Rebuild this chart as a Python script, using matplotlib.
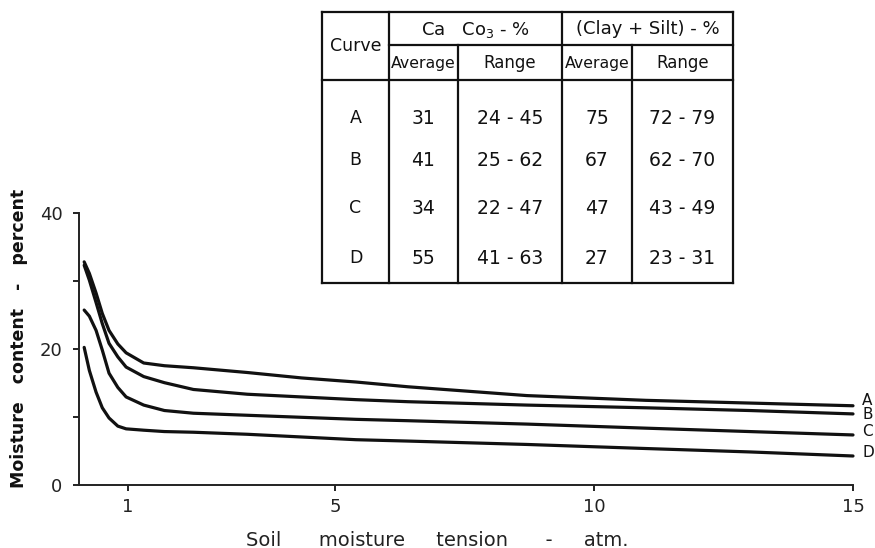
import matplotlib
matplotlib.use("Agg")
import matplotlib.pyplot as plt
from matplotlib.lines import Line2D

# ---------------- data ----------------
tension = [0.15, 0.25, 0.38, 0.5, 0.63, 0.8, 0.96, 1.3, 1.7, 2.26, 3.3, 4.35,
           5.4, 6.4, 8.7, 11.0, 13.0, 15.0]
curve_A = [32.8, 31.1, 28.2, 25.2, 22.7, 20.7, 19.4, 17.9, 17.5, 17.2, 16.5, 15.7,
           15.1, 14.4, 13.1, 12.4, 12.0, 11.6]
curve_B = [32.3, 30.1, 26.8, 23.7, 20.8, 18.8, 17.3, 15.9, 15.0, 14.0, 13.3, 12.9,
           12.5, 12.2, 11.7, 11.3, 10.9, 10.4]
curve_C = [25.7, 24.8, 22.7, 19.8, 16.4, 14.3, 12.9, 11.7, 10.9, 10.5, 10.2, 9.9,
           9.6, 9.4, 8.9, 8.3, 7.8, 7.3]
curve_D = [20.2, 16.8, 13.6, 11.3, 9.8, 8.6, 8.2, 8.0, 7.8, 7.7, 7.4, 7.0,
           6.6, 6.4, 5.9, 5.3, 4.8, 4.2]
curve_names = ["A", "B", "C", "D"]

x_ticks = [1, 5, 10, 15]
x_ticklabels = ["1", "5", "10", "15"]
y_ticks = [0, 10, 20, 30, 40]
y_ticklabels = ["0", "", "20", "", "40"]

table_curves = ["A", "B", "C", "D"]
caco3_avg = ["31", "41", "34", "55"]
caco3_range = ["24 - 45", "25 - 62", "22 - 47", "41 - 63"]
clay_avg = ["75", "67", "47", "27"]
clay_range = ["72 - 79", "62 - 70", "43 - 49", "23 - 31"]
header_top = ["Ca   Co$_3$ - %", "(Clay + Silt) - %"]
header_sub = ["Average", "Range", "Average", "Range"]

# ---------------- figure ----------------
W, H = 875, 548
fig = plt.figure(figsize=(W / 100, H / 100), dpi=100)
plt.rcParams['font.family'] = ['DejaVu Sans']

def fx(px):
    return px / W

def fy(py):
    return 1 - py / H

ax = fig.add_axes([fx(79), fy(484.5), fx(853) - fx(79), fy(213) - fy(484.5)])
ax.set_xlim(0.05, 15)
ax.set_ylim(0, 40)

label_offsets = [5, -1, 3, 3]
for name, ys, dy in zip(curve_names, [curve_A, curve_B, curve_C, curve_D], label_offsets):
    ax.plot(tension, ys, color="#111111", lw=2.3, solid_capstyle="round",
            solid_joinstyle="round", clip_on=False)
    ax.annotate(name, xy=(tension[-1], ys[-1]), xytext=(9, dy),
                textcoords="offset pixels", ha="left", va="center",
                fontsize=11, color="#111111")

for s in ["top", "right"]:
    ax.spines[s].set_visible(False)
for s in ["left", "bottom"]:
    ax.spines[s].set_linewidth(1.4)
    ax.spines[s].set_color("#222222")

ax.set_xticks(x_ticks)
ax.set_xticklabels(x_ticklabels, fontsize=13)
ax.set_yticks(y_ticks)
ax.set_yticklabels(y_ticklabels, fontsize=13)
ax.tick_params(axis="x", direction="out", length=4, width=1.4, pad=6, colors="#222222")
ax.tick_params(axis="y", direction="out", length=4, width=1.4, pad=8, colors="#222222")

fig.text(fx(437), fy(540), "Soil      moisture     tension      -     atm.",
         ha="center", va="center", fontsize=14, color="#222222")
fig.text(fx(19), fy(338), "Moisture   content   -   percent",
         ha="center", va="center", rotation=90, fontsize=12.5,
         fontweight="bold", color="#111111")

# ---------------- table ----------------
col_edges = [322, 389, 458, 562, 632, 733]
row_top, row_split, row_head, row_bottom = 12, 45, 80, 283
row_centers = [118, 160, 208, 258]
tkw = dict(transform=fig.transFigure, color="#111111", lw=1.6)

def hline(py, x0, x1):
    fig.add_artist(Line2D([fx(x0), fx(x1)], [fy(py), fy(py)], **tkw))

def vline(px, y0, y1):
    fig.add_artist(Line2D([fx(px), fx(px)], [fy(y0), fy(y1)], **tkw))

hline(row_top, col_edges[0], col_edges[-1])
hline(row_bottom, col_edges[0], col_edges[-1])
hline(row_head, col_edges[0], col_edges[-1])
hline(row_split, col_edges[1], col_edges[-1])
vline(col_edges[0], row_top, row_bottom)
vline(col_edges[-1], row_top, row_bottom)
vline(col_edges[1], row_top, row_bottom)
vline(col_edges[3], row_top, row_bottom)
vline(col_edges[2], row_split, row_bottom)
vline(col_edges[4], row_split, row_bottom)

centers = [(col_edges[i] + col_edges[i + 1]) / 2 for i in range(5)]
fig.text(fx(centers[0]), fy((row_top + row_head) / 2), "Curve",
         ha="center", va="center", fontsize=12.5, color="#111111")
fig.text(fx((col_edges[1] + col_edges[3]) / 2), fy((row_top + row_split) / 2 + 1),
         header_top[0], ha="center", va="center", fontsize=13, color="#111111")
fig.text(fx((col_edges[3] + col_edges[5]) / 2), fy((row_top + row_split) / 2 + 1),
         header_top[1], ha="center", va="center", fontsize=13, color="#111111")
for i, lab in enumerate(header_sub):
    fig.text(fx(centers[i + 1]), fy((row_split + row_head) / 2 + 1), lab,
             ha="center", va="center",
             fontsize=11.3 if lab == "Average" else 12, color="#111111")

for r, yc in enumerate(row_centers):
    vals = [table_curves[r], caco3_avg[r], caco3_range[r], clay_avg[r], clay_range[r]]
    for c, v in enumerate(vals):
        fig.text(fx(centers[c]), fy(yc), v, ha="center", va="center",
                 fontsize=13.5 if c else 12.5, color="#111111")

fig.savefig("out.png", dpi=100, facecolor="white")
